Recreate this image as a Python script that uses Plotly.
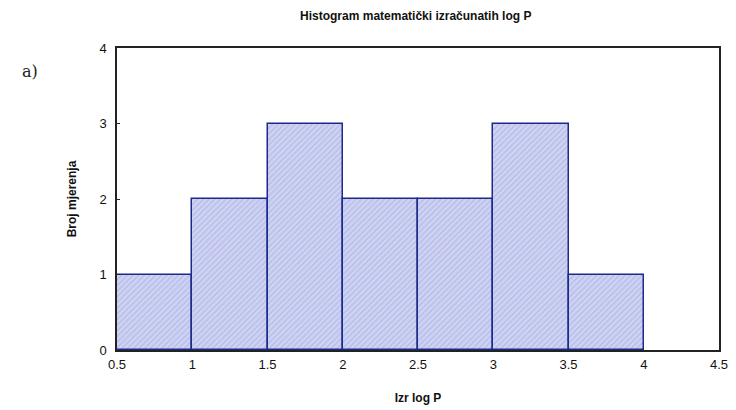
import plotly.graph_objects as go

bin_left = [0.5, 1.0, 1.5, 2.0, 2.5, 3.0, 3.5]
bin_width = 0.5
counts = [1, 2, 3, 2, 2, 3, 1]
x_ticks = [0.5, 1, 1.5, 2, 2.5, 3, 3.5, 4, 4.5]
y_ticks = [0, 1, 2, 3, 4]

centers = [b + bin_width / 2 for b in bin_left]

fig = go.Figure()
fig.add_trace(go.Bar(
    x=centers, y=counts, width=[bin_width] * len(counts),
    marker=dict(
        color="#cfd3f3",
        line=dict(color="#1c2a8c", width=1.5),
        pattern=dict(shape="/", fgcolor="#9aa0d6", size=4, solidity=0.3),
    ),
    showlegend=False,
))

fig.update_layout(
    width=736, height=410,
    margin=dict(l=109, r=25, t=40, b=68),
    paper_bgcolor="white", plot_bgcolor="white",
    bargap=0,
    font=dict(family="Liberation Sans, Arial, sans-serif", color="#111"),
    title=dict(text="<b>Histogram matematički izračunatih log P</b>",
               x=0.554, xanchor="center", y=0.98, yanchor="middle",
               font=dict(size=12, color="#111")),
    xaxis=dict(range=[0.5, 4.5], tickvals=x_ticks,
               ticktext=[f"{v:g}" for v in x_ticks],
               showgrid=False, zeroline=False,
               showline=True, linecolor="#222", linewidth=1.5, mirror=True,
               ticks="", tickfont=dict(size=13), ticklabelstandoff=2,
               title=dict(text="<b>Izr log P</b>", font=dict(size=12), standoff=22)),
    yaxis=dict(range=[0, 4], tickvals=y_ticks,
               showgrid=False, zeroline=False,
               showline=True, linecolor="#222", linewidth=1.5, mirror=True,
               ticks="inside", ticklen=3, tickcolor="#222",
               tickfont=dict(size=13), ticklabelstandoff=6,
               title=dict(text="<b>Broj mjerenja</b>", font=dict(size=12), standoff=20)),
    annotations=[dict(text="a)", x=(30 - 117) / (719 - 117), y=1 - (72 - 48) / (350 - 48),
                      xref="paper", yref="paper", xanchor="center", yanchor="middle",
                      showarrow=False,
                      font=dict(family="DejaVu Serif, serif", size=16, color="#222"))],
)

fig.write_html("out.html")
